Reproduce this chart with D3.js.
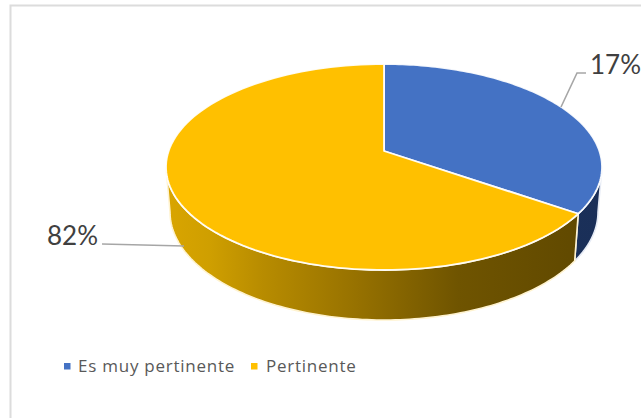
<!DOCTYPE html>
<html>
<head>
<meta charset="utf-8">
<script src="https://cdn.jsdelivr.net/npm/d3@7/dist/d3.min.js"></script>
<style>html,body{margin:0;padding:0;background:#fff}svg{display:block}</style>
</head>
<body>
<svg id="chart" width="641" height="418"></svg>
<script>
const categories = ["Es muy pertinente", "Pertinente"];
const drawnShares = [32.5, 67.5];
const labelTexts = ["17%", "82%"];
const topColors = ["#4472c4", "#ffc000"];

const W = 641, H = 418;
const svg = d3.select("#chart");
const defs = svg.append("defs");

function grad(id, stops) {
  const g = defs.append("linearGradient").attr("id", id)
    .attr("gradientUnits", "userSpaceOnUse")
    .attr("x1", 166).attr("x2", 602).attr("y1", 0).attr("y2", 0);
  stops.forEach(s => g.append("stop").attr("offset", s[0]).attr("stop-color", s[1]));
}
grad("sideGold", [[0, "#d9a500"], [0.1, "#cf9f00"], [0.22, "#b88c00"], [0.44, "#967100"], [0.67, "#6f5400"], [1, "#5e4700"]]);
grad("sideBlue", [[0, "#1f3864"], [1, "#1a2f58"]]);

svg.append("path").attr("d", "M10.5,418V5.5H641").attr("fill", "none")
  .attr("stroke", "#dcdcdc").attr("stroke-width", 2);

const topE = {cx: 384, cy: 167, rx: 218, ry: 103};
const botE = {cx: 384, cy: 212, rx: 214, ry: 108};
const apex = [384, 151];

const pt = (e, a) => [e.cx + e.rx * Math.sin(a), e.cy - e.ry * Math.cos(a)];

const pie = d3.pie().sort(null).value(d => d);
const arcs = pie(drawnShares);

const line = d3.line();
function rim(e, a0, a1) {
  const n = 120;
  return d3.range(n + 1).map(i => pt(e, a0 + (a1 - a0) * i / n));
}

const pieG = svg.append("g");

const vis0 = Math.PI / 2, vis1 = Math.PI * 1.5;
arcs.forEach((d, i) => {
  const a0 = Math.max(d.startAngle, vis0), a1 = Math.min(d.endAngle, vis1);
  if (a1 <= a0) return;
  const poly = rim(topE, a0, a1).concat(rim(botE, a0, a1).reverse());
  pieG.append("path").attr("d", line(poly) + "Z")
    .attr("fill", i === 0 ? "url(#sideBlue)" : "url(#sideGold)")
    .attr("stroke", i === 0 ? "#e6ebf5" : "#fff3d0").attr("stroke-width", 1.6)
    .attr("stroke-linejoin", "round");
});

arcs.forEach((d, i) => {
  const poly = [apex].concat(rim(topE, d.startAngle, d.endAngle));
  pieG.append("path").attr("d", line(poly) + "Z")
    .attr("fill", topColors[i])
    .attr("stroke", "#fff").attr("stroke-opacity", 0.92).attr("stroke-width", 1.8)
    .attr("stroke-linejoin", "round");
});

const textCol = "#404040";
svg.append("path").attr("d", "M561,107L577,73H586").attr("fill", "none")
  .attr("stroke", "#a6a6a6").attr("stroke-width", 1.6);
svg.append("path").attr("d", "M102,244L184,246").attr("fill", "none")
  .attr("stroke", "#a6a6a6").attr("stroke-width", 1.6);

const labFont = "Lato, 'Open Sans', sans-serif";
svg.append("text").attr("x", 590).attr("y", 74).text(labelTexts[0])
  .attr("font-family", labFont).attr("font-size", 26).attr("fill", textCol);
svg.append("text").attr("x", 47).attr("y", 245).text(labelTexts[1])
  .attr("font-family", labFont).attr("font-size", 26).attr("fill", textCol);

const legX = [64, 251], legTxt = [78, 266];
categories.forEach((c, i) => {
  svg.append("rect").attr("x", legX[i]).attr("y", 363).attr("width", 6.5).attr("height", 6.5)
    .attr("fill", topColors[i]);
  svg.append("text").attr("x", legTxt[i]).attr("y", 372).text(c)
    .attr("font-family", "'Open Sans', sans-serif").attr("font-size", 17)
    .attr("letter-spacing", 0.75).attr("fill", "#595959");
});
</script>
</body>
</html>
